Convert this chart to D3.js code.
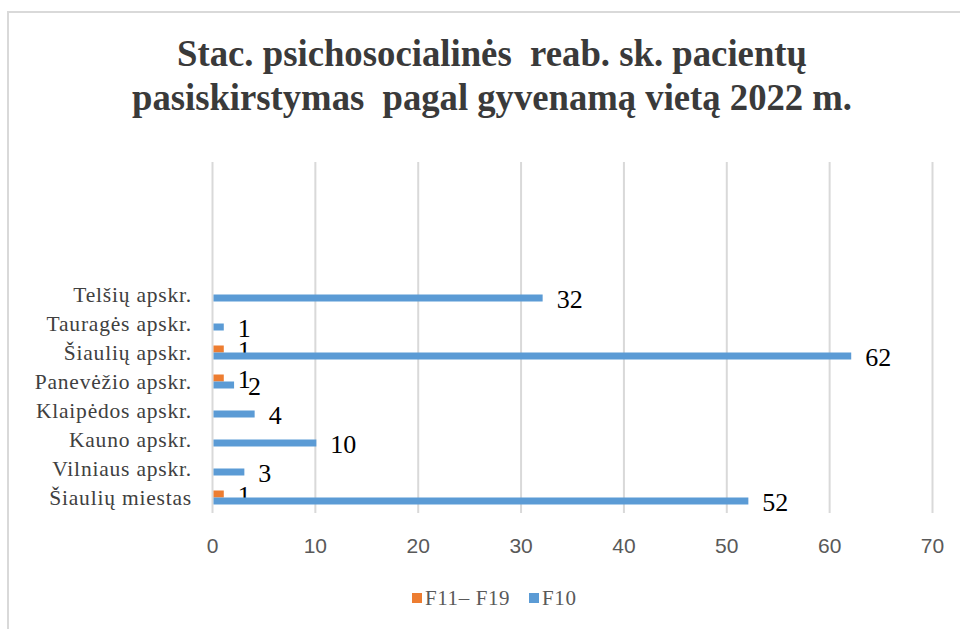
<!DOCTYPE html>
<html>
<head>
<meta charset="utf-8">
<script src="https://cdn.jsdelivr.net/npm/d3@7"></script>
<style>
html,body{margin:0;padding:0;background:#fff;}
svg{display:block;}
text{white-space:pre;}
</style>
</head>
<body>
<svg id="chart" width="960" height="629"></svg>
<script>
// Data (bottom to top, as in the chart)
const categories = ["Šiaulių miestas","Vilniaus apskr.","Kauno apskr.","Klaipėdos apskr.","Panevėžio apskr.","Šiaulių apskr.","Tauragės apskr.","Telšių apskr."];
const f10 = [52, 3, 10, 4, 2, 62, 1, 32];
const f11f19 = [1, null, null, null, 1, 1, null, null];
const seriesNames = ["F11– F19", "F10"];
const seriesColors = ["#ED7D31", "#5B9BD5"];
const xTicks = [0, 10, 20, 30, 40, 50, 60, 70];
const titleLines = ["Stac. psichosocialinės  reab. sk. pacientų", "pasiskirstymas  pagal gyvenamą vietą 2022 m."];

const svg = d3.select("#chart");

// chart frame
svg.append("rect").attr("x", 8).attr("y", 12).attr("width", 980).attr("height", 660)
  .attr("fill", "#fff").attr("stroke", "#d9d9d9").attr("stroke-width", 2);

// title
const titleY = [66, 110];
const titleW = [630, 720];
titleLines.forEach((t, i) => {
  svg.append("text").attr("x", 492).attr("y", titleY[i]).attr("text-anchor", "middle")
    .attr("font-family", "Liberation Serif, Times New Roman, serif")
    .attr("font-weight", "bold").attr("font-size", 38).attr("fill", "#3a3a3a")
    .attr("textLength", titleW[i]).attr("lengthAdjust", "spacingAndGlyphs")
    .text(t);
});

const x = d3.scaleLinear().domain([0, 70]).range([212.5, 932.5]);
const y = d3.scaleBand().domain(categories).range([512, 280]);
const plotTop = 162, plotBottom = 513;

// gridlines
svg.append("g").selectAll("line").data(xTicks).join("line")
  .attr("x1", d => x(d)).attr("x2", d => x(d))
  .attr("y1", plotTop).attr("y2", plotBottom)
  .attr("stroke", "#d9d9d9").attr("stroke-width", 2);

// x tick labels
svg.append("g").selectAll("text").data(xTicks).join("text")
  .attr("x", d => x(d)).attr("y", 553).attr("text-anchor", "middle")
  .attr("font-family", "Liberation Sans, Arial, sans-serif")
  .attr("font-size", 21).attr("fill", "#595959")
  .text(d => d);

// category labels
svg.append("g").selectAll("text").data(categories).join("text")
  .attr("x", 192).attr("y", d => y(d) + y.bandwidth()/2 + 7.5).attr("text-anchor", "end")
  .attr("font-family", "Liberation Serif, Times New Roman, serif")
  .attr("font-size", 21.5).attr("letter-spacing", 0.8).attr("fill", "#404040")
  .text(d => d);

const barH = 7;
const series = [f11f19, f10];
series.forEach((vals, si) => {
  const offset = si === 0 ? -barH : 0;
  const data = categories.map((c, i) => ({c, v: vals[i]})).filter(d => d.v != null);
  svg.append("g").selectAll("rect").data(data).join("rect")
    .attr("x", x(0) + 1).attr("y", d => y(d.c) + y.bandwidth()/2 + offset)
    .attr("width", d => x(d.v) - x(0)).attr("height", barH)
    .attr("fill", seriesColors[si]);
  svg.append("g").selectAll("text").data(data).join("text")
    .attr("x", d => x(d.v) + 15).attr("y", d => y(d.c) + y.bandwidth()/2 + offset + barH/2 + 10)
    .attr("font-family", "Liberation Serif, Times New Roman, serif")
    .attr("font-size", 26).attr("fill", "#000")
    .text(d => d.v);
});

// legend
const legend = svg.append("g");
const legX = [412, 529];
seriesNames.forEach((n, i) => {
  legend.append("rect").attr("x", legX[i]).attr("y", 593).attr("width", 10).attr("height", 10)
    .attr("fill", seriesColors[i]);
  legend.append("text").attr("x", legX[i] + 13).attr("y", 605)
    .attr("font-family", "Liberation Serif, Times New Roman, serif")
    .attr("font-size", 21).attr("letter-spacing", 0.6).attr("fill", "#595959")
    .text(n);
});
</script>
</body>
</html>
